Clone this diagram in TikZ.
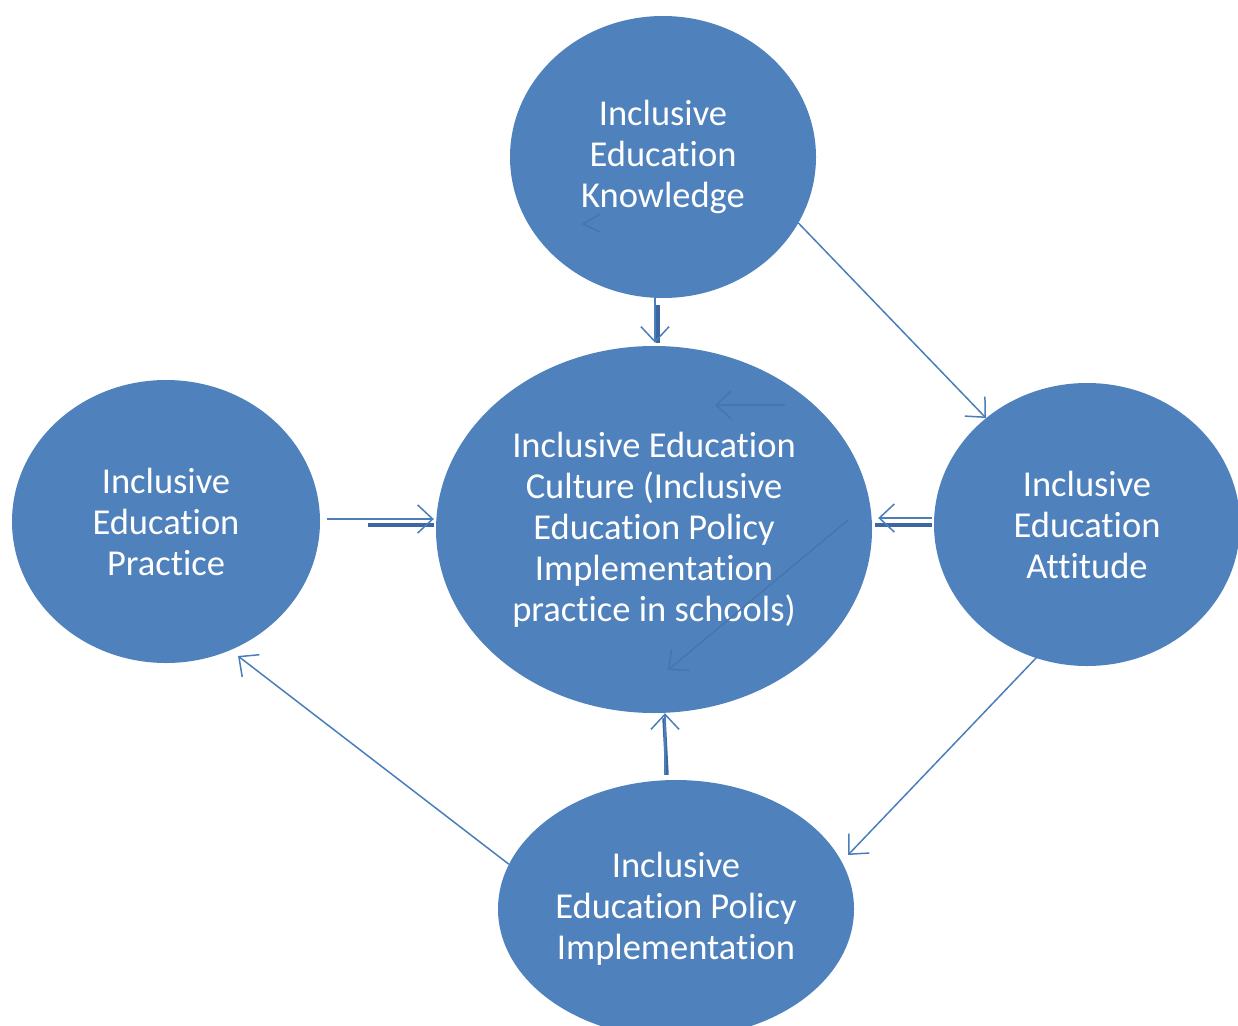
\documentclass[tikz,border=0pt]{standalone}
\usepackage{fontspec}
\setmainfont{Carlito}[Ligatures=NoCommon]
\usetikzlibrary{shapes.geometric,arrows.meta}
\definecolor{bubble}{HTML}{4F81BD}
\definecolor{wire}{HTML}{4A7EBB}
\definecolor{bar}{HTML}{3D67A1}
\definecolor{ghost}{HTML}{4676B2}
\tikzset{
  bubble/.style={ellipse,fill=bubble,draw=none,inner sep=0pt,text=white,
    align=center,font=\fontsize{36.5}{41}\selectfont},
  vhead/.style={-{Straight Barb[length=15pt,width=28pt,line width=1.5pt]}},
  conn/.style={draw=wire,line width=1.5pt,vhead},
  thickbar/.style={draw=bar,line width=3.5pt},
  ghostline/.style={draw=ghost,line width=1.5pt},
  ghostconn/.style={ghostline,vhead}
}
\begin{document}
\begin{tikzpicture}[x=1pt,y=-1pt]
\useasboundingbox (0,0) rectangle (1238,1025);

% the five ellipses
\node[bubble,minimum width=306pt,minimum height=282pt] (know) at (663,157)
  {Inclusive\\Education\\Knowledge};
\node[bubble,minimum width=436pt,minimum height=367pt] (cen) at (654,529.5)
  {Inclusive Education\\Culture (Inclusive\\Education Policy\\Implementation\\practice in schools)};
\node[bubble,minimum width=308pt,minimum height=283pt] (prac) at (166,521.5)
  {Inclusive\\Education\\Practice};
\node[bubble,minimum width=306pt,minimum height=283pt] (att) at (1087,524.5)
  {Inclusive\\Education\\Attitude};
\node[bubble,minimum width=356pt,minimum height=258pt] (pol) at (676,909)
  {Inclusive\\Education Policy\\Implementation};

% faint strokes lying on the central and top ellipses
\draw[ghostconn] ([shift={(131pt,124.5pt)}]cen.center) -- ([shift={(61pt,124.5pt)}]cen.center);
\draw[ghostconn] ([shift={(194pt,9.5pt)}]cen.center) -- ([shift={(14pt,-140.5pt)}]cen.center);
\draw[ghostline] ([shift={(-63pt,-57pt)}]know.center) -- ([shift={(-80pt,-67pt)}]know.center)
  -- ([shift={(-63pt,-75pt)}]know.center);

% knowledge -> culture
\coordinate (kb) at (cen.north |- know.south);
\draw[thickbar] ([shift={(4pt,-7pt)}]kb) -- ([shift={(4pt,3pt)}]cen.north);
\draw[conn] ([xshift=1pt]kb) -- ([shift={(1pt,3pt)}]cen.north);

% practice -> culture
\draw[thickbar] ([shift={(48pt,-3.5pt)}]prac.east) -- ([shift={(-2pt,4.5pt)}]cen.west);
\draw[conn] ([shift={(7pt,2.5pt)}]prac.east) -- ([shift={(-2pt,10.5pt)}]cen.west);

% attitude -> culture
\draw[thickbar] ([shift={(-2pt,-0.5pt)}]att.west) -- ([shift={(3pt,4.5pt)}]cen.east);
\draw[conn] ([shift={(-2pt,6.5pt)}]att.west) -- ([shift={(6pt,11.5pt)}]cen.east);

% policy -> culture
\draw[thickbar] ([shift={(-9pt,5pt)}]pol.north) -- ([shift={(10pt,-5pt)}]cen.south);
\draw[conn] ([shift={(-11pt,5pt)}]pol.north) -- ([xshift=11pt]cen.south);

% outer cycle
\draw[conn] (know.-26.4) -- ([shift={(-101pt,106.5pt)}]att.center);
\draw[conn] ([shift={(-50pt,-132.5pt)}]att.center) -- ([shift={(172pt,54pt)}]pol.center);
\draw[conn] (pol.165.6) -- ([shift={(72pt,-134.5pt)}]prac.center);
\end{tikzpicture}
\end{document}
